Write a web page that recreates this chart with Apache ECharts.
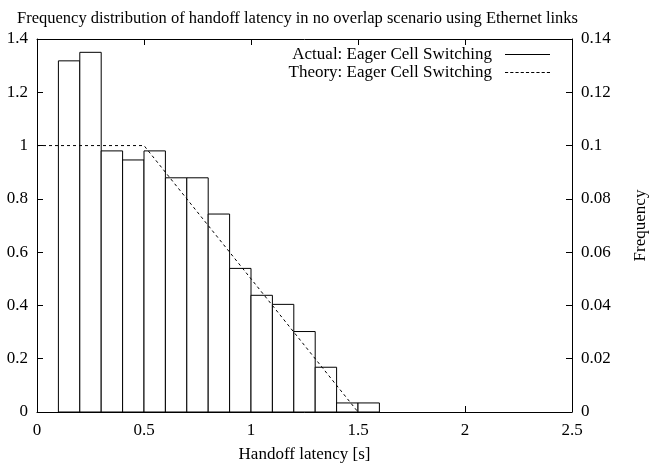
<!DOCTYPE html>
<html><head><meta charset="utf-8">
<script src="https://cdn.jsdelivr.net/npm/echarts@6/dist/echarts.min.js"></script>
<style>html,body{margin:0;padding:0;background:#fff}#c{width:650px;height:473px}</style>
</head><body><div id="c"></div>
<script>
// Histogram bins (start, end) in seconds and bar heights (left axis)
const binStart = [0.1,0.2,0.3,0.4,0.5,0.6,0.7,0.8,0.9,1.0,1.1,1.2,1.3,1.4,1.5];
const binEnd   = [0.2,0.3,0.4,0.5,0.6,0.7,0.8,0.9,1.0,1.1,1.2,1.3,1.4,1.5,1.6];
const actual   = [1.318,1.350,0.980,0.946,0.980,0.879,0.879,0.743,0.539,0.438,0.404,0.302,0.168,0.034,0.034];
// Theory curve
const theoryX = [0, 0.5, 1.5];
const theoryY = [1, 1, 0];

const FONT = "'Liberation Serif','Times New Roman',serif";
const FS = 17;
const chart = echarts.init(document.getElementById('c'), null, {renderer:'canvas'});
const histData = binStart.map((s,i)=>[s, binEnd[i], actual[i]]);
const theoryData = theoryX.map((x,i)=>[x, theoryY[i]]);
const tickFmt = v => String(+v.toFixed(4));

let dashPath = 'path://';
for (let i = 0; i < 9; i++) dashPath += 'M' + (i*5) + ',0h3v1h-3z';

const axisLine = {show:true, onZero:false, lineStyle:{color:'#000', width:1}};
const axisTick = {show:true, inside:true, length:6, lineStyle:{color:'#000', width:1}};
const lbl = {fontFamily:FONT, fontSize:FS, color:'#000', formatter:tickFmt, showMinLabel:true, showMaxLabel:true};

chart.setOption({
  animation:false,
  backgroundColor:'#fff',
  textStyle:{fontFamily:FONT, color:'#000'},
  title:{text:'Frequency distribution of handoff latency in no overlap scenario using Ethernet links',
    left:12, top:5, textStyle:{fontFamily:FONT, fontSize:16.5, fontWeight:'normal', color:'#000'}},
  grid:{left:37, right:78, top:39, bottom:61, containLabel:false, outerBoundsMode:'none'},
  legend:{
    right:95, top:41, orient:'vertical', align:'right', itemWidth:45, itemHeight:10, itemGap:1,
    textStyle:{fontFamily:FONT, fontSize:FS, color:'#000', padding:[0,8,0,0]},
    data:[
      {name:'Actual: Eager Cell Switching', icon:'path://M0,0L45,0L45,1L0,1Z', itemStyle:{color:'#000', borderWidth:0}},
      {name:'Theory: Eager Cell Switching', icon:dashPath, itemStyle:{color:'#000', borderWidth:0}}
    ]
  },
  xAxis:[
    {type:'value', min:0, max:2.5, interval:0.5, position:'bottom',
     name:'Handoff latency [s]', nameLocation:'middle', nameGap:34,
     nameTextStyle:{fontFamily:FONT, fontSize:FS, color:'#000'},
     axisLine:axisLine, axisTick:axisTick,
     axisLabel:Object.assign({margin:10}, lbl),
     splitLine:{show:false}},
    {type:'value', min:0, max:2.5, interval:0.5, position:'top',
     axisLine:axisLine, axisTick:axisTick,
     axisLabel:{show:false}, splitLine:{show:false}}
  ],
  yAxis:[
    {type:'value', min:0, max:1.4, interval:0.2, position:'left',
     axisLine:axisLine, axisTick:axisTick,
     axisLabel:Object.assign({margin:9}, lbl),
     splitLine:{show:false}},
    {type:'value', min:0, max:0.14, interval:0.02, position:'right',
     name:'Frequency', nameLocation:'middle', nameGap:60, nameRotate:90,
     nameTextStyle:{fontFamily:FONT, fontSize:FS, color:'#000'},
     axisLine:axisLine, axisTick:axisTick,
     axisLabel:Object.assign({margin:9}, lbl),
     splitLine:{show:false}}
  ],
  series:[
    {name:'Actual: Eager Cell Switching', type:'custom', xAxisIndex:0, yAxisIndex:0,
     encode:{x:[0,1], y:2}, data:histData, z:2, itemStyle:{color:'#000'},
     renderItem:function(params, api){
       const p0 = api.coord([api.value(0), api.value(2)]);
       const p1 = api.coord([api.value(1), 0]);
       return {type:'rect', shape:{x:p0[0], y:p0[1], width:p1[0]-p0[0], height:p1[1]-p0[1]},
               style:{fill:'#fff', stroke:'#000', lineWidth:1}};
     }},
    {name:'Theory: Eager Cell Switching', type:'line', xAxisIndex:0, yAxisIndex:0,
     data:theoryData, symbol:'none', z:5, color:'#000',
     lineStyle:{color:'#000', width:1, type:[3,3]}}
  ]
});
</script></body></html>
